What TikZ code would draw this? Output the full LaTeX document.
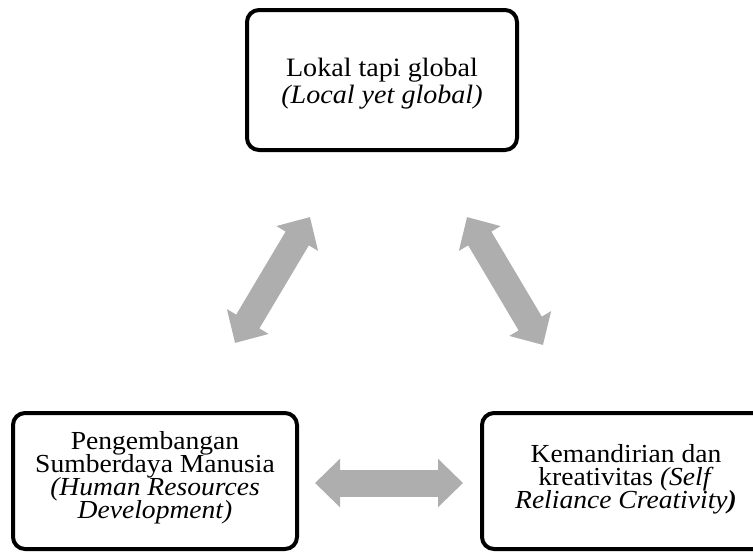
\documentclass[tikz,border=0pt]{standalone}
\usepackage{fontspec}
\setmainfont{Liberation Serif}[FakeStretch=1.06]
\usepackage{xcolor}
\usetikzlibrary{arrows.meta}
\definecolor{arrowgray}{HTML}{AEAEAE}
\newcommand\tightlines{\lineskiplimit-100pt\relax}

\begin{document}
\begin{tikzpicture}[x=1pt, y=-1pt, box/.style = {draw, line width=4pt, rounded corners=12pt, fill=white}, txt/.style = {align=center, inner sep=0pt, font=\fontsize{26}{23}\selectfont\tightlines}, twoway/.style = {draw=arrowgray, line width=27pt, {Triangle[width=47pt,length=25pt]}-{Triangle[width=47pt,length=25pt]}}]
  \useasboundingbox (0,0) rectangle (753,552);
  \clip (0,0) rectangle (753,552);
  \node[box, minimum width=270pt, minimum height=140pt] (1) at (382,80) {};
  \node[box, minimum width=284pt, minimum height=136pt] (2) at (155,481) {};
  \node[box, minimum width=288pt, minimum height=136pt] (3) at (626,481) {};
  \node[txt, font=\fontsize{26.5}{27}\selectfont\tightlines] (1t) at ([yshift=-3.5pt]1.center) {Lokal tapi global\\\textit{(Local yet global)}};
  \node[txt] (2t) at ([yshift=3pt]2.center) {Pengembangan\\Sumberdaya Manusia\\\textit{(Human Resources}\\\textit{Development)}};
  \node[txt] (3t) at ([yshift=2pt]3.center) {Kemandirian dan\\kreativitas \textit{(Self}\\\textit{Reliance Creativity}\textbf{\textit{)}}};
  \coordinate (4) at (235,343);
  \coordinate (5) at (310,217);
  \coordinate (6) at (467,217);
  \coordinate (7) at (543,345);
  \coordinate (8) at (315,483);
  \coordinate (9) at (463,483);
  \draw[twoway] (4) to (5);
  \draw[twoway] (6) to (7);
  \draw[twoway] (8) to (9);
\end{tikzpicture}
\end{document}
